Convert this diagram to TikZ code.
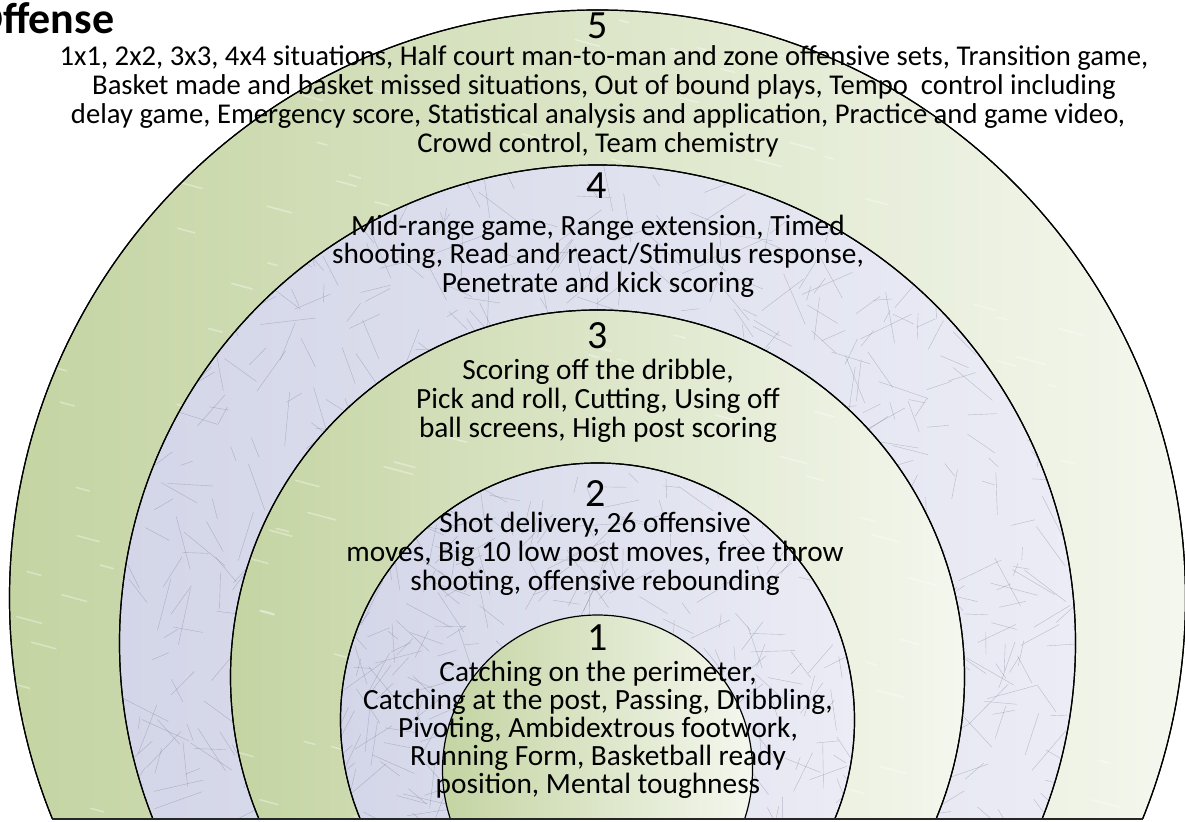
\documentclass[tikz,border=0pt]{standalone}
\usepackage{fontspec}
\setmainfont{Carlito}
\definecolor{grn}{HTML}{C4D4A2}
\definecolor{grnm}{HTML}{DAE4C5}
\definecolor{grnl}{HTML}{F4F7EE}
\definecolor{lav}{HTML}{D3D6E8}
\definecolor{lavl}{HTML}{EBECF5}
\definecolor{scr}{HTML}{6E7388}
\begin{document}
\begin{tikzpicture}[x=0.75pt,y=-0.75pt,
  ringline/.style={draw=black,line width=0.9pt},
  greenring/.style={ringline,left color=grn,middle color=grnm,right color=grnl},
  lavring/.style={ringline,left color=lav,right color=lavl},
  scratch/.style={draw=scr,line width=0.3pt,opacity=0.4},
  streak/.style={draw=white,line width=1.2pt,opacity=0.35,line cap=round},
  txt/.style={anchor=base,inner sep=0pt,font=\fontsize{22}{26}\selectfont},
  txtb/.style={anchor=base,inner sep=0pt,font=\fontsize{21.5}{26}\selectfont},
  num/.style={anchor=base,inner sep=0pt,font=\fontsize{30}{36}\selectfont},
  ttl/.style={anchor=base west,inner sep=0pt,font=\bfseries\fontsize{33}{38}\selectfont}]
\useasboundingbox (0,0) rectangle (1185,821);
\fill[white] (0,0) rectangle (1185,821);
\pgfmathsetseed{11}
\begin{scope}
  \clip (-10,-10) rectangle (1195,818.5);
  % ring 5
  \path[greenring] (597.5,598) circle[radius=441pt];
  \begin{scope}
    \clip (597.5,598) circle[radius=441pt];
    \foreach \i in {1,...,160}{
      \pgfmathsetmacro\xa{10+rnd*1100}
      \pgfmathsetmacro\ya{20+rnd*800}
      \pgfmathsetmacro\len{8+rnd*22}
      \draw[streak] (\xa,\ya) -- ++(15:\len);
    }
  \end{scope}
  \path[ringline] (597.5,598) circle[radius=441pt];
  % ring 4
  \path[lavring] (597.5,643) circle[radius=358.5pt];
  \begin{scope}
    \clip (597.5,643) circle[radius=358.5pt];
    \foreach \i in {1,...,800}{
      \pgfmathsetmacro\xa{110+rnd*970}
      \pgfmathsetmacro\ya{160+rnd*660}
      \pgfmathsetmacro\ang{rnd*360}
      \pgfmathsetmacro\len{12+rnd*45}
      \draw[scratch] (\xa,\ya) -- ++(\ang:\len);
    }
  \end{scope}
  \path[ringline] (597.5,643) circle[radius=358.5pt];
  % ring 3
  \path[greenring] (597.5,677) circle[radius=275.25pt];
  \begin{scope}
    \clip (597.5,677) circle[radius=275.25pt];
    \foreach \i in {1,...,80}{
      \pgfmathsetmacro\xa{230+rnd*700}
      \pgfmathsetmacro\ya{310+rnd*510}
      \pgfmathsetmacro\len{8+rnd*22}
      \draw[streak] (\xa,\ya) -- ++(15:\len);
    }
  \end{scope}
  \path[ringline] (597.5,677) circle[radius=275.25pt];
  % ring 2
  \path[lavring] (597.5,720) circle[radius=192.75pt];
  \begin{scope}
    \clip (597.5,720) circle[radius=192.75pt];
    \foreach \i in {1,...,330}{
      \pgfmathsetmacro\xa{330+rnd*540}
      \pgfmathsetmacro\ya{455+rnd*365}
      \pgfmathsetmacro\ang{rnd*360}
      \pgfmathsetmacro\len{12+rnd*40}
      \draw[scratch] (\xa,\ya) -- ++(\ang:\len);
    }
  \end{scope}
  \path[ringline] (597.5,720) circle[radius=192.75pt];
  % ring 1
  \path[greenring] (597.5,770) circle[radius=116.25pt];
\end{scope}
\coordinate (bl) at (52,819);
\coordinate (br) at (1143,819);
\draw[line width=1.5pt,draw=black!85] (bl) -- (br);

% title
\node[ttl] (title) at (-27,33) {Offense};

% ring 5
\node[num] (n5) at (598,38) {5};
\node[txtb] (t5a) at (604,65) {1x1, 2x2, 3x3, 4x4 situations, Half court man-to-man and zone offensive sets, Transition game,};
\node[txtb] (t5b) at (604,94) {Basket made and basket missed situations, Out of bound plays, Tempo~ control including};
\node[txtb] (t5c) at (598,123) {delay game, Emergency score, Statistical analysis and application, Practice and game video,};
\node[txtb] (t5d) at (598,152) {Crowd control, Team chemistry};

% ring 4
\node[num] (n4) at (597,198) {4};
\node[txt] (t4a) at (598,235) {Mid-range game, Range extension, Timed};
\node[txt] (t4b) at (598,263) {shooting, Read and react/Stimulus response,};
\node[txt] (t4c) at (598,292) {Penetrate and kick scoring};

% ring 3
\node[num] (n3) at (598,348) {3};
\node[txt] (t3a) at (598,379) {Scoring off the dribble,};
\node[txt] (t3b) at (598,408) {Pick and roll, Cutting, Using off};
\node[txt] (t3c) at (598,437) {ball screens, High post scoring};

% ring 2
\node[num] (n2) at (596,506) {2};
\node[txt] (t2a) at (595,532) {Shot delivery, 26 offensive};
\node[txt] (t2b) at (595,561) {moves, Big 10 low post moves, free throw};
\node[txt] (t2c) at (595,590) {shooting, offensive rebounding};

% ring 1
\node[num] (n1) at (598,650) {1};
\node[txt] (t1a) at (598,681) {Catching on the perimeter,};
\node[txt] (t1b) at (598,709) {Catching at the post, Passing, Dribbling,};
\node[txt] (t1c) at (598,737) {Pivoting, Ambidextrous footwork,};
\node[txt] (t1d) at (598,765) {Running Form, Basketball ready};
\node[txt] (t1e) at (598,793) {position, Mental toughness};
\end{tikzpicture}
\end{document}
